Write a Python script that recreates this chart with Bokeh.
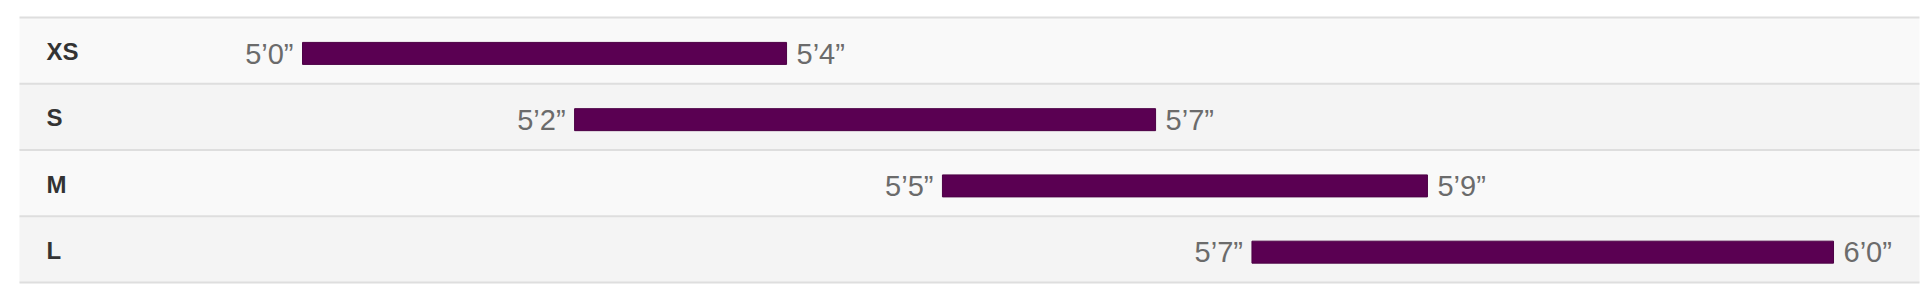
from bokeh.plotting import figure
from bokeh.models import Range1d, ColumnDataSource
from bokeh.core.properties import value
from bokeh.embed import file_html
from bokeh.resources import INLINE

# ---- data ----
sizes = ["XS", "S", "M", "L"]
min_labels = ["5’0”", "5’2”", "5’5”", "5’7”"]
max_labels = ["5’4”", "5’7”", "5’9”", "6’0”"]
# bar extents, in percent of the track width
bar_start = [15.73, 29.9, 49.06, 65.18]
bar_end = [40.94, 60.16, 74.32, 95.47]

# ---- layout ----
W, H = 1920, 295
ROW_PX = 66.25
TOP_PX = 17.0
n = len(sizes)
top_rows = TOP_PX / ROW_PX
total_rows = H / ROW_PX

p = figure(width=W, height=H, output_backend="svg", toolbar_location=None,
           x_range=Range1d(0, 100),
           y_range=Range1d(total_rows - top_rows, -top_rows),
           min_border=0, min_border_left=0, min_border_right=0,
           min_border_top=0, min_border_bottom=0)
p.xaxis.visible = False
p.yaxis.visible = False
p.grid.visible = False
p.outline_line_color = None
p.background_fill_color = "white"
p.border_fill_color = "white"

tbl_left = 19 / W * 100
tbl_right = 1919 / W * 100

idx = list(range(n))
row_src = ColumnDataSource(dict(
    top=[i for i in idx], bottom=[i + 1 for i in idx],
    color=["#f9f9f9" if i % 2 == 0 else "#f4f4f4" for i in idx]))
p.quad(left=tbl_left, right=tbl_right, top="top", bottom="bottom",
       fill_color="color", line_color=None, source=row_src)

# row borders
ys = list(range(n + 1))
p.segment(x0=[tbl_left] * len(ys), x1=[tbl_right] * len(ys), y0=ys, y1=ys,
          line_color="#dedede", line_width=2)

src = ColumnDataSource(dict(
    size=sizes, lo=min_labels, hi=max_labels,
    start=bar_start, end=bar_end,
    yc=[i + 0.5 for i in idx], yb=[i + 0.542 for i in idx]))

p.hbar(y="yb", left="start", right="end", height=0.332,
       fill_color="#5a0052", line_color="#4c0045", line_width=1, source=src)

p.text(x=46 / W * 100, y="yc", text="size", source=src,
       text_font=value("Liberation Sans"), text_font_style="bold",
       text_font_size="24px", text_color="#333333",
       text_align="left", text_baseline="alphabetic", y_offset=1)

p.text(x="start", y="yc", text="lo", source=src,
       text_font=value("Liberation Sans"), text_font_size="29px",
       text_color="#6b6b6b", text_align="right", text_baseline="alphabetic",
       x_offset=-9, y_offset=3)

p.text(x="end", y="yc", text="hi", source=src,
       text_font=value("Liberation Sans"), text_font_size="29px",
       text_color="#6b6b6b", text_align="left", text_baseline="alphabetic",
       x_offset=10, y_offset=3)

open("out.html", "w").write(file_html(p, INLINE))
